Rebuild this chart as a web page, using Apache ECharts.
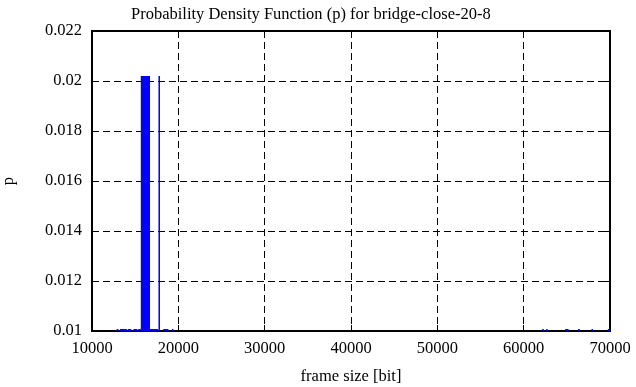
<!DOCTYPE html>
<html>
<head>
<meta charset="utf-8">
<script src="https://cdn.jsdelivr.net/npm/echarts@6/dist/echarts.min.js"></script>
<style>html,body{margin:0;padding:0;background:#fff}#c{width:636px;height:387px}</style>
</head>
<body>
<div id="c"></div>
<script>
// Bin start / end of each drawn block (frame size, bit) and its probability
var binStart = [15650, 17700, 12850, 13250, 14150, 14800, 15350, 16720, 18250, 19250, 62150, 62600, 64800, 66300, 67850, 69750];
var binEnd   = [16720, 17850, 13050, 14050, 14550, 15250, 15650, 17650, 18850, 19400, 62250, 62700, 65200, 66500, 68000, 69900];
var pValues  = [0.0202, 0.0202, 0.01008, 0.01008, 0.01008, 0.01008, 0.01008, 0.01008, 0.01008, 0.01008, 0.01008, 0.01008, 0.01008, 0.01008, 0.01008, 0.01008];
var xTicks = [10000, 20000, 30000, 40000, 50000, 60000, 70000];
var yTicks = [0.01, 0.012, 0.014, 0.016, 0.018, 0.02, 0.022];

var data = binStart.map(function (s, i) { return [s, binEnd[i], pValues[i]]; });
var FONT = 'Liberation Serif';
var FS = 16.5;
var chart = echarts.init(document.getElementById('c'));
var gridLine = { show: true, lineStyle: { color: '#000', type: [7, 4], width: 1 } };
var yFmt = function (v) { return String(parseFloat(v.toFixed(4))); };
var xFmt = function (v) { return String(Math.round(v)); };
chart.setOption({
  animation: false,
  title: {
    text: 'Probability Density Function (p) for bridge-close-20-8',
    left: 126, top: 1,
    textStyle: { fontFamily: FONT, fontWeight: 'normal', fontSize: FS, color: '#000' }
  },
  grid: { left: 92, right: 26, top: 31, bottom: 56, show: true, borderColor: '#000', borderWidth: 2, backgroundColor: 'transparent', containLabel: false, outerBoundsMode: 'none' },
  xAxis: [{
    type: 'value', min: xTicks[0], max: xTicks[xTicks.length - 1], interval: 10000,
    name: 'frame size [bit]', nameLocation: 'middle', nameGap: 37,
    nameTextStyle: { fontFamily: FONT, fontSize: FS, color: '#000' },
    axisLine: { show: false },
    axisTick: { show: true, inside: true, length: 6, lineStyle: { color: '#000', width: 1 } },
    axisLabel: { fontFamily: FONT, fontSize: FS, color: '#000', margin: 9, formatter: xFmt },
    splitLine: gridLine
  }, {
    type: 'value', position: 'top', min: xTicks[0], max: xTicks[xTicks.length - 1], interval: 10000,
    axisLine: { show: false }, axisLabel: { show: false }, splitLine: { show: false },
    axisTick: { show: true, inside: true, length: 6, lineStyle: { color: '#000', width: 1 } }
  }],
  yAxis: [{
    type: 'value', min: yTicks[0], max: yTicks[yTicks.length - 1], interval: 0.002,
    name: 'p', nameLocation: 'middle', nameGap: 75, nameRotate: 90,
    nameTextStyle: { fontFamily: FONT, fontSize: FS, color: '#000' },
    axisLine: { show: false },
    axisTick: { show: true, inside: true, length: 6, lineStyle: { color: '#000', width: 1 } },
    axisLabel: { fontFamily: FONT, fontSize: FS, color: '#000', margin: 10, formatter: yFmt },
    splitLine: gridLine
  }, {
    type: 'value', position: 'right', min: yTicks[0], max: yTicks[yTicks.length - 1], interval: 0.002,
    axisLine: { show: false }, axisLabel: { show: false }, splitLine: { show: false },
    axisTick: { show: true, inside: true, length: 6, lineStyle: { color: '#000', width: 1 } }
  }],
  series: [{
    type: 'custom',
    clip: true,
    data: data,
    encode: { x: [0, 1], y: 2 },
    renderItem: function (params, api) {
      var p0 = api.coord([api.value(0), yTicks[0]]);
      var p1 = api.coord([api.value(1), api.value(2)]);
      return {
        type: 'rect',
        shape: { x: p0[0], y: p1[1], width: Math.max(p1[0] - p0[0], 1.5), height: p0[1] - p1[1] },
        style: { fill: '#0000ff' }
      };
    }
  }]
});
</script>
</body>
</html>
